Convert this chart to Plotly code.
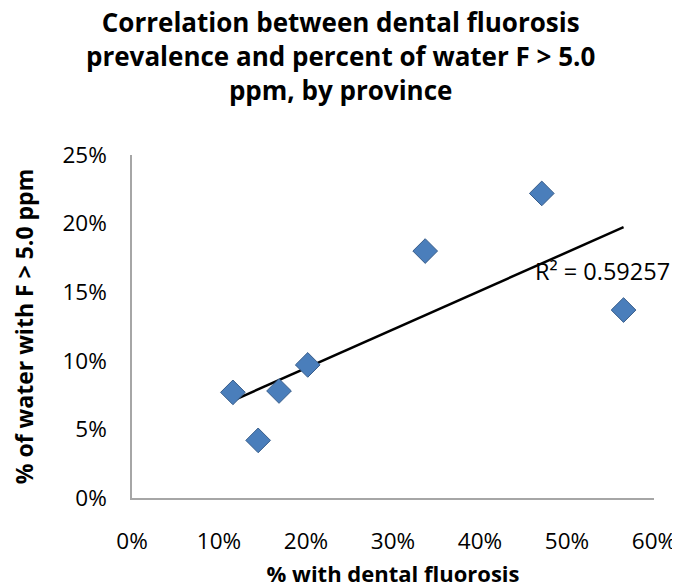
import numpy as np
import plotly.graph_objects as go

# % with dental fluorosis (x) vs % of water with F > 5.0 ppm (y), one point per province
fluorosis = [0.116, 0.145, 0.169, 0.202, 0.337, 0.471, 0.565]
water_f = [0.077, 0.042, 0.078, 0.097, 0.180, 0.222, 0.137]
r2_label = "R² = 0.59257"

x_ticks = [0, 0.1, 0.2, 0.3, 0.4, 0.5, 0.6]
y_ticks = [0, 0.05, 0.1, 0.15, 0.2, 0.25]

FONT = "Open Sans"

# linear trendline fitted to the points
slope, intercept = np.polyfit(fluorosis, water_f, 1)
trend_x = [min(fluorosis), max(fluorosis)]
trend_y = [slope * v + intercept for v in trend_x]

fig = go.Figure()
fig.add_trace(go.Scatter(
    x=trend_x, y=trend_y, mode="lines",
    line=dict(color="black", width=2.5),
    showlegend=False, hoverinfo="skip",
))
fig.add_trace(go.Scatter(
    x=fluorosis, y=water_f, mode="markers",
    marker=dict(symbol="diamond", size=19, color="#4A7EBB",
                line=dict(color="#385D8A", width=1)),
    showlegend=False,
))

fig.add_annotation(
    x=0.461, y=0.1655, xref="x", yref="y",
    text=r2_label, showarrow=False, xanchor="left", yanchor="middle",
    font=dict(family=FONT, size=23.5, color="black"),
)

# chart title (three centred lines above the plot)
fig.add_annotation(
    x=0.3985, y=1.289, xref="paper", yref="paper",
    text="<b>Correlation between dental fluorosis<br>"
         "prevalence and percent of water F > 5.0<br>"
         "ppm, by province</b>",
    showarrow=False, xanchor="center", yanchor="middle", align="center",
    font=dict(family=FONT, size=26, color="black"),
)

axis_common = dict(
    showgrid=False, zeroline=False, showline=True,
    linecolor="#A6A6A6", linewidth=1.5,
    tickformat=".0%", ticks="",
    tickfont=dict(family=FONT, size=22.5, color="black"),
)

fig.update_xaxes(
    range=[0, 0.6], tickvals=x_ticks, ticklabelstandoff=22,
    title=dict(text="<b>% with dental fluorosis</b>", standoff=19,
               font=dict(family=FONT, size=22, color="black")),
    **axis_common,
)
fig.update_yaxes(
    range=[0, 0.25], tickvals=y_ticks, ticklabelstandoff=19,
    title=dict(text="<b>% of water with F > 5.0 ppm</b>", standoff=26,
               font=dict(family=FONT, size=23, color="black")),
    **axis_common,
)

# page body adds an 8px margin, so the figure is 8px smaller than the window
fig.update_layout(
    width=672, height=580,
    paper_bgcolor="white", plot_bgcolor="white",
    margin=dict(l=124, r=26, t=147, b=90, autoexpand=False),
)

fig.write_html("out.html")
